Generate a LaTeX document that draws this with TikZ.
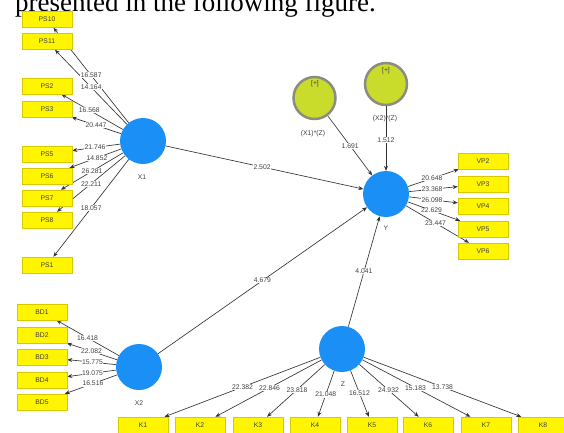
\documentclass[tikz,border=0pt]{standalone}
\usepackage{fontspec}
\setmainfont{Liberation Sans}
\newfontfamily\titlefont{Liberation Serif}
\usetikzlibrary{arrows.meta,backgrounds}
\definecolor{latblue}{HTML}{1A8FF5}
\definecolor{modgreen}{HTML}{C9DC2C}
\definecolor{modring}{HTML}{8C8C80}
\definecolor{indfill}{HTML}{FFF500}
\definecolor{indline}{HTML}{D8C800}
\definecolor{txtgray}{HTML}{404040}
\newcommand\myedge[4]{%
  \begin{pgfonlayer}{background}\draw[arr] (#1) -- (#2);\end{pgfonlayer}%
  \path (#1.center) -- (#2.center) node[lbl,pos=#3]{#4};}
\begin{document}
\begin{tikzpicture}[x=1pt,y=-1pt,
  ind/.style={draw=indline, fill=indfill, line width=0.5pt, minimum width=50pt, minimum height=16pt, inner sep=0pt, font=\fontsize{6.8}{8}\selectfont, text=txtgray},
  lat/.style={circle, fill=latblue, minimum size=46pt, inner sep=0pt},
  mod/.style={circle, fill=modgreen, draw=modring, line width=2.5pt, minimum size=42pt, inner sep=0pt},
  lbl/.style={fill=white, inner sep=0.5pt, font=\fontsize{6.8}{8}\selectfont, text=txtgray},
  nm/.style={font=\fontsize{6.8}{8}\selectfont, text=txtgray, inner sep=0pt},
  arr/.style={-{Stealth[length=5pt,width=4pt]}, draw=black!80, line width=0.65pt}]
\useasboundingbox (0,0) rectangle (564,432);
\clip (0,0) rectangle (564,432);
\node[anchor=base west, inner sep=0pt, font=\titlefont\fontsize{27}{30}\selectfont] (title) at (15,11) {presented in the following figure.};
% indicators
\node[ind] (PS10) at (47,19.5) {PS10};
\node[ind] (PS11) at (47,41.5) {PS11};
\node[ind] (PS2) at (47,86) {PS2};
\node[ind] (PS3) at (47,109) {PS3};
\node[ind] (PS5) at (47,154) {PS5};
\node[ind] (PS6) at (47,176) {PS6};
\node[ind] (PS7) at (47,198) {PS7};
\node[ind] (PS8) at (47,220) {PS8};
\node[ind] (PS1) at (47,265) {PS1};
\node[ind] (BD1) at (42,312) {BD1};
\node[ind] (BD2) at (42,335) {BD2};
\node[ind] (BD3) at (42,357) {BD3};
\node[ind] (BD4) at (42,380) {BD4};
\node[ind] (BD5) at (42,402) {BD5};
\node[ind] (VP2) at (483,161) {VP2};
\node[ind] (VP3) at (483,184) {VP3};
\node[ind] (VP4) at (483,206) {VP4};
\node[ind] (VP5) at (483,229) {VP5};
\node[ind] (VP6) at (483,251) {VP6};
\node[ind] (K1) at (143,425) {K1};
\node[ind] (K2) at (200,425) {K2};
\node[ind] (K3) at (258,425) {K3};
\node[ind] (K4) at (315,425) {K4};
\node[ind] (K5) at (372,425) {K5};
\node[ind] (K6) at (428,425) {K6};
\node[ind] (K7) at (486,425) {K7};
\node[ind] (K8) at (543,425) {K8};
% latent variables
\node[lat] (X1) at (143,141) {};
\node[lat] (X2) at (139,367) {};
\node[lat] (Y) at (386,194) {};
\node[lat] (Z) at (342,349) {};
\node[nm] (X1n) at (142,177) {X1};
\node[nm] (X2n) at (139,403) {X2};
\node[nm] (Yn) at (386,228) {Y};
\node[nm] (Zn) at (343,384) {Z};
% moderators
\node[mod] (M1) at (314.5,98) {};
\node[mod] (M2) at (386,84) {};
\node[nm] (M1p) at (315,84) {[+]};
\node[nm] (M2p) at (386,71) {[+]};
\node[nm] (M1n) at (313,134) {(X1)*(Z)};
% X1 loadings
\myedge{X1}{PS10}{0.54}{16.587}
\myedge{X1}{PS11}{0.54}{14.164}
\myedge{X1}{PS2}{0.56}{16.568}
\myedge{X1}{PS3}{0.49}{20.447}
\myedge{X1}{PS5}{0.50}{21.746}
\myedge{X1}{PS6}{0.48}{14.852}
\myedge{X1}{PS7}{0.53}{26.281}
\myedge{X1}{PS8}{0.54}{22.211}
\myedge{X1}{PS1}{0.54}{18.057}
% X2 loadings
\myedge{X2}{BD1}{0.53}{16.418}
\myedge{X2}{BD2}{0.49}{22.082}
\myedge{X2}{BD3}{0.48}{15.775}
\myedge{X2}{BD4}{0.48}{19.075}
\myedge{X2}{BD5}{0.475}{16.516}
% Y loadings
\myedge{Y}{VP2}{0.475}{20.648}
\myedge{Y}{VP3}{0.475}{23.368}
\myedge{Y}{VP4}{0.475}{26.098}
\myedge{Y}{VP5}{0.47}{22.629}
\myedge{Y}{VP6}{0.51}{23.447}
% Z loadings
\myedge{Z}{K1}{0.50}{22.382}
\myedge{Z}{K2}{0.51}{22.846}
\myedge{Z}{K3}{0.535}{23.818}
\myedge{Z}{K4}{0.60}{21.048}
\myedge{Z}{K5}{0.58}{16.512}
\myedge{Z}{K6}{0.54}{24.932}
\myedge{Z}{K7}{0.51}{15.183}
\myedge{Z}{K8}{0.50}{13.738}
% structural paths
\myedge{X1}{Y}{0.49}{2.502}
\myedge{X2}{Y}{0.50}{4.679}
\myedge{Z}{Y}{0.50}{4.041}
\myedge{M1}{Y}{0.50}{1.691}
\myedge{M2}{Y}{0.51}{1.512}
\node[nm] (M2n) at (385,119) {(X2)*(Z)};
\end{tikzpicture}
\end{document}
